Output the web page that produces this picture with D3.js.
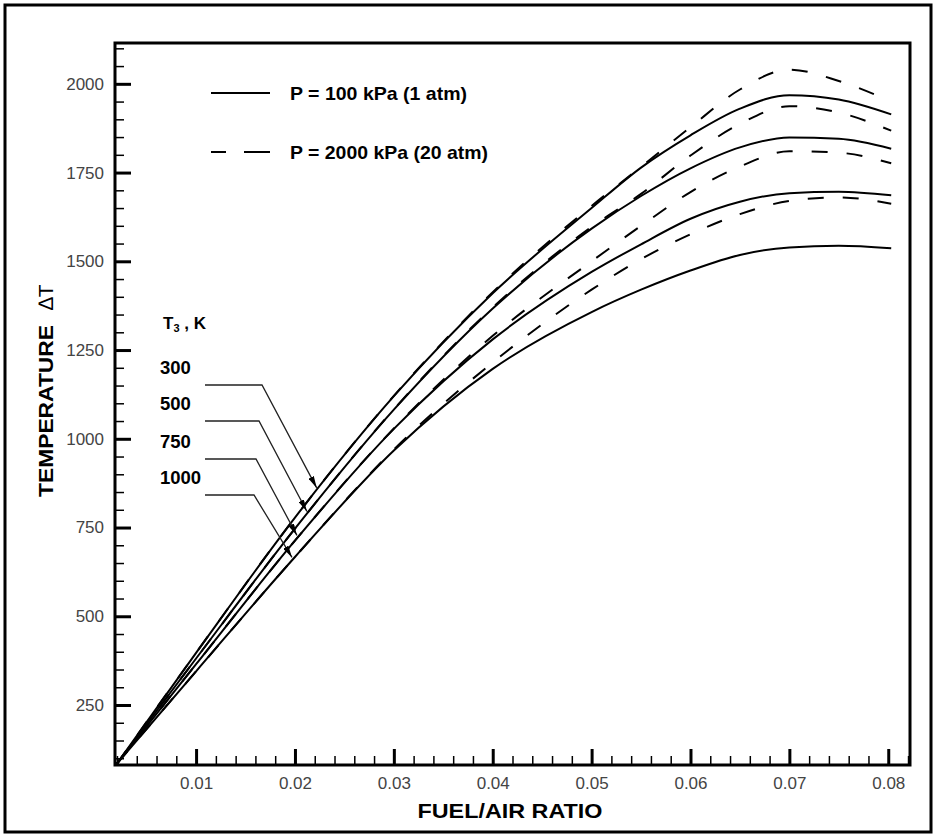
<!DOCTYPE html>
<html>
<head>
<meta charset="utf-8">
<script src="https://cdn.jsdelivr.net/npm/d3@7"></script>
<style>
  body { margin: 0; background: #fff; }
  text { font-family: "Liberation Sans", Arial, sans-serif; }
</style>
</head>
<body>
<svg id="chart" width="936" height="837"></svg>
<script>
// fuel/air ratio grid shared by every curve
const fuelAir = [0.002, 0.01, 0.02, 0.03, 0.04, 0.05, 0.055, 0.06, 0.065, 0.07, 0.075, 0.0803];

// temperature rise, P = 100 kPa (solid)
const solid300 = [85, 397, 778, 1120, 1410, 1650, 1764, 1855, 1930, 1968, 1956, 1914];
const solid500 = [85, 381, 747, 1082, 1367, 1592, 1684, 1762, 1821, 1849, 1845, 1817];
const solid750 = [85, 365, 713, 1028, 1280, 1470, 1548, 1620, 1668, 1692, 1696, 1686];
const solid1000 = [85, 345, 667, 967, 1197, 1357, 1420, 1474, 1518, 1539, 1544, 1537];

// temperature rise, P = 2000 kPa (dashed)
const dashed300 = [85, 397, 778, 1121, 1413, 1656, 1766, 1878, 1984, 2040, 2008, 1950];
const dashed500 = [85, 381, 747, 1083, 1370, 1597, 1690, 1798, 1887, 1937, 1919, 1868];
const dashed750 = [85, 365, 713, 1029, 1290, 1500, 1600, 1695, 1767, 1810, 1806, 1776];
const dashed1000 = [85, 345, 667, 970, 1215, 1420, 1506, 1576, 1633, 1670, 1680, 1662];

const t3Labels = ['300', '500', '750', '1000'];
const arrowTipFuelAir = [0.0222, 0.0212, 0.0202, 0.0197];
const legendLabels = ['P = 100 kPa (1 atm)', 'P = 2000 kPa (20 atm)'];

const xTickValues = [0.01, 0.02, 0.03, 0.04, 0.05, 0.06, 0.07, 0.08];
const yTickValues = [250, 500, 750, 1000, 1250, 1500, 1750, 2000];

const solidSeries = [solid300, solid500, solid750, solid1000];
const dashedSeries = [dashed300, dashed500, dashed750, dashed1000];

const frame = { left: 115, top: 43, right: 910, bottom: 765 };

const svg = d3.select('#chart');

// outer border
svg.append('rect')
    .attr('x', 5).attr('y', 5)
    .attr('width', 926).attr('height', 827)
    .attr('fill', 'none')
    .attr('stroke', '#000')
    .attr('stroke-width', 3);

const x = d3.scaleLinear()
    .domain([0.0018, 0.0822])
    .range([frame.left, frame.right]);

const y = d3.scaleLinear()
    .domain([81, 2115])
    .range([frame.bottom, frame.top]);

const xMinor = d3.range(0.002, 0.0821, 0.002).filter(v => Math.abs(v * 100 - Math.round(v * 100)) > 1e-6);
const yMinor = d3.range(100, 2101, 50).filter(v => v % 250 !== 0);

const styleTicks = (g, width) => {
    g.select('.domain').remove();
    g.selectAll('line').attr('stroke', '#000').attr('stroke-width', width);
    g.selectAll('text')
        .attr('font-size', 17)
        .attr('font-family', '"Liberation Sans", Arial, sans-serif')
        .attr('fill', '#444');
};

// minor ticks
svg.append('g')
    .attr('transform', `translate(0,${frame.bottom})`)
    .call(d3.axisBottom(x).tickValues(xMinor).tickSize(-9).tickFormat(''))
    .call(g => styleTicks(g, 1.5));

svg.append('g')
    .attr('transform', `translate(${frame.left},0)`)
    .call(d3.axisLeft(y).tickValues(yMinor).tickSize(-9).tickFormat(''))
    .call(g => styleTicks(g, 1.5));

// major ticks with labels
svg.append('g')
    .attr('transform', `translate(0,${frame.bottom})`)
    .call(d3.axisBottom(x).tickValues(xTickValues).tickSize(-16).tickPadding(12).tickFormat(d3.format('.2f')))
    .call(g => styleTicks(g, 3));

svg.append('g')
    .attr('transform', `translate(${frame.left},0)`)
    .call(d3.axisLeft(y).tickValues(yTickValues).tickSize(-16).tickPadding(11).tickFormat(d3.format('d')))
    .call(g => styleTicks(g, 3));

// plot frame
svg.append('rect')
    .attr('x', frame.left).attr('y', frame.top)
    .attr('width', frame.right - frame.left)
    .attr('height', frame.bottom - frame.top)
    .attr('fill', 'none')
    .attr('stroke', '#000')
    .attr('stroke-width', 3);

const line = d3.line()
    .x((d, i) => x(fuelAir[i]))
    .y(d => y(d))
    .curve(d3.curveMonotoneX);

svg.append('g')
    .selectAll('path')
    .data(solidSeries)
    .enter()
    .append('path')
    .attr('fill', 'none')
    .attr('stroke', '#000')
    .attr('stroke-width', 2)
    .attr('d', line);

svg.append('g')
    .selectAll('path')
    .data(dashedSeries)
    .enter()
    .append('path')
    .attr('fill', 'none')
    .attr('stroke', '#000')
    .attr('stroke-width', 2)
    .attr('stroke-dasharray', '16,19')
    .attr('d', line);

// legend
const legendLineX = [211, 270];
const legendY = [93, 152];
const legendWidths = [177, 198];

svg.append('line')
    .attr('x1', legendLineX[0]).attr('x2', legendLineX[1])
    .attr('y1', legendY[0]).attr('y2', legendY[0])
    .attr('stroke', '#000').attr('stroke-width', 2);

svg.append('line')
    .attr('x1', legendLineX[0]).attr('x2', legendLineX[1])
    .attr('y1', legendY[1]).attr('y2', legendY[1])
    .attr('stroke', '#000').attr('stroke-width', 2)
    .attr('stroke-dasharray', '15,18,26');

svg.append('g')
    .selectAll('text')
    .data(legendLabels)
    .enter()
    .append('text')
    .attr('x', 290)
    .attr('y', (d, i) => legendY[i] + 7)
    .attr('font-size', 19)
    .attr('font-weight', 'bold')
    .attr('textLength', (d, i) => legendWidths[i])
    .attr('lengthAdjust', 'spacingAndGlyphs')
    .text(d => d);

// T3 labels with leader arrows
svg.append('defs')
    .append('marker')
    .attr('id', 'arrow')
    .attr('viewBox', '0 0 12 6')
    .attr('refX', 12).attr('refY', 3)
    .attr('markerWidth', 12).attr('markerHeight', 6)
    .attr('markerUnits', 'userSpaceOnUse')
    .attr('orient', 'auto')
    .append('path')
    .attr('d', 'M0,0 L12,3 L0,6 Z')
    .attr('fill', '#000');

const t3Title = svg.append('text')
    .attr('x', 163).attr('y', 329)
    .attr('font-size', 17)
    .attr('font-weight', 'bold');
t3Title.append('tspan').text('T');
t3Title.append('tspan').attr('font-size', 11).attr('dy', 3).text('3');
t3Title.append('tspan').attr('dy', -3).text(' , K');

const leaderStartX = 205;
const leaderRows = [385, 421, 459, 495];
const leaderElbowX = [262, 259, 256, 254];

t3Labels.forEach((label, i) => {
    const tipInterp = d3.scaleLinear().domain(fuelAir).range(solidSeries[i]);
    const tipX = x(arrowTipFuelAir[i]);
    const tipY = y(tipInterp(arrowTipFuelAir[i])) - 3;

    svg.append('text')
        .attr('x', 160)
        .attr('y', leaderRows[i] - 11)
        .attr('font-size', 18.5)
        .attr('font-weight', 'bold')
        .text(label);

    svg.append('path')
        .attr('d', `M${leaderStartX},${leaderRows[i]} L${leaderElbowX[i]},${leaderRows[i]} L${tipX},${tipY}`)
        .attr('fill', 'none')
        .attr('stroke', '#222')
        .attr('stroke-width', 1.3)
        .attr('marker-end', 'url(#arrow)');
});

// axis titles
svg.append('text')
    .attr('x', 510)
    .attr('y', 818)
    .attr('text-anchor', 'middle')
    .attr('font-size', 21)
    .attr('font-weight', 'bold')
    .attr('textLength', 185)
    .attr('lengthAdjust', 'spacingAndGlyphs')
    .text('FUEL/AIR RATIO');

svg.append('text')
    .attr('transform', 'translate(53,497) rotate(-90)')
    .attr('font-size', 21)
    .attr('font-weight', 'bold')
    .attr('textLength', 172)
    .attr('lengthAdjust', 'spacingAndGlyphs')
    .text('TEMPERATURE');

svg.append('text')
    .attr('transform', 'translate(53,310) rotate(-90)')
    .attr('font-size', 21)
    .text('\u2206T');
</script>
</body>
</html>
